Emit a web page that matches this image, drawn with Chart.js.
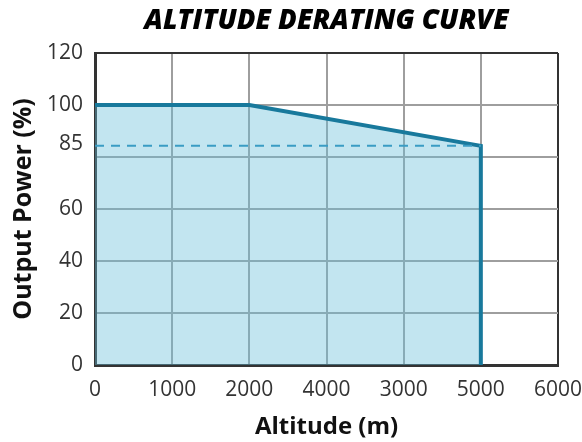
<!DOCTYPE html>
<html>
<head>
<meta charset="utf-8">
<script src="https://cdn.jsdelivr.net/npm/chart.js@4/dist/chart.umd.min.js"></script>
<style>
html,body{margin:0;padding:0;background:#fff;}
#wrap{width:582px;height:442px;}
</style>
</head>
<body>
<div id="wrap"><canvas id="c" width="582" height="442"></canvas></div>
<script>
// Data
const curveAltitude = [0, 2000, 5000, 5000];
const curvePower = [100, 100, 84.3, 0];
const dashAltitude = [0, 5000];
const dashPower = [84.3, 84.3];
const xTickValues = [0, 1000, 2000, 3000, 4000, 5000, 6000];
const xTickLabels = ['0', '1000', '2000', '4000', '3000', '5000', '6000'];
const yTickValues = [0, 20, 40, 60, 80, 85, 100, 120];
const yTickLabels = ['0', '20', '40', '60', '', '85', '100', '120'];

const curveData = curveAltitude.map((x, i) => ({x, y: curvePower[i]}));
const dashData = dashAltitude.map((x, i) => ({x, y: dashPower[i]}));

const tickFont = {family: 'Open Sans', size: 21};
const titleFont = {family: 'Open Sans', size: 24, weight: 'bold'};

new Chart(document.getElementById('c'), {
  type: 'line',
  data: {
    datasets: [
      {
        data: dashData,
        borderColor: '#3a9cc4',
        borderWidth: 2,
        borderDash: [9, 7],
        pointRadius: 0,
        fill: false,
        order: 0
      },
      {
        data: curveData,
        borderColor: '#18799c',
        backgroundColor: 'rgba(102,190,218,0.4)',
        borderWidth: 4,
        pointRadius: 0,
        fill: 'origin',
        tension: 0,
        order: 1
      }
    ]
  },
  options: {
    responsive: false,
    animation: false,
    layout: {padding: {left: 0, right: 24, top: 0, bottom: 0}},
    plugins: {
      legend: {display: false},
      tooltip: {enabled: false},
      title: {
        display: true,
        text: 'ALTITUDE DERATING CURVE',
        fullSize: false,
        color: '#000',
        font: {family: 'Open Sans', size: 27.5, weight: 800, style: 'italic'},
        padding: {top: 5, bottom: 15}
      }
    },
    scales: {
      x: {
        type: 'linear',
        min: 0,
        max: 6000,
        afterBuildTicks: s => { s.ticks = xTickValues.map(v => ({value: v})); },
        afterFit: s => { s.height = 77; s.paddingLeft = 0; s.paddingRight = 0; },
        ticks: {
          font: tickFont,
          color: '#333',
          padding: 12,
          maxRotation: 0,
          callback: (v, i) => xTickLabels[i]
        },
        grid: {
          drawTicks: false,
          lineWidth: 2,
          color: ctx => (ctx.tick && ctx.tick.value === 6000) ? '#333' : '#9e9e9e'
        },
        border: {display: true, color: '#333', width: 3},
        title: {
          display: true,
          text: 'Altitude (m)',
          font: titleFont,
          color: '#111',
          padding: {top: 8, bottom: 0}
        }
      },
      y: {
        type: 'linear',
        min: 0,
        max: 120,
        afterBuildTicks: s => { s.ticks = yTickValues.map(v => ({value: v})); },
        afterFit: s => { s.width = 95; },
        ticks: {
          font: tickFont,
          color: '#333',
          padding: 12,
          callback: (v, i) => yTickLabels[i]
        },
        grid: {
          drawTicks: false,
          lineWidth: 2,
          color: ctx => {
            if (!ctx.tick) return '#9e9e9e';
            if (ctx.tick.value === 85) return 'rgba(0,0,0,0)';
            if (ctx.tick.value === 120) return '#333';
            return '#9e9e9e';
          }
        },
        border: {display: true, color: '#333', width: 3},
        title: {
          display: true,
          text: 'Output Power (%)',
          font: {family: 'Open Sans', size: 25, weight: 'bold'},
          color: '#111',
          padding: {top: 9, bottom: 0}
        }
      }
    }
  }
});
</script>
</body>
</html>
